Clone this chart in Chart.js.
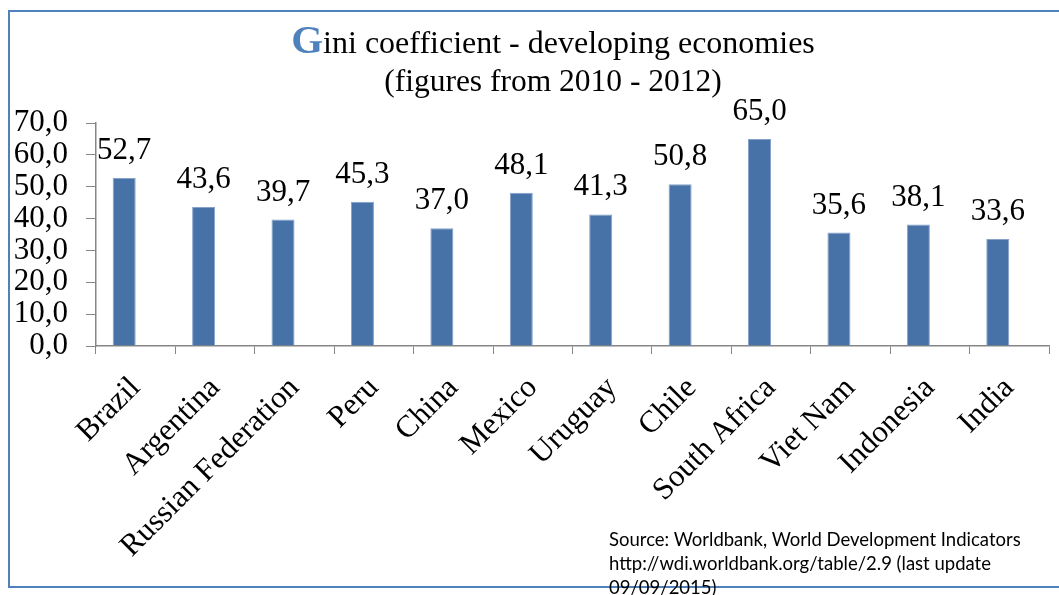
<!DOCTYPE html>
<html>
<head>
<meta charset="utf-8">
<script src="https://cdn.jsdelivr.net/npm/chart.js@4/dist/chart.umd.min.js"></script>
<style>
  html, body { margin: 0; padding: 0; background: #fff; overflow: hidden; }
  #wrap { position: relative; width: 1059px; height: 595px; overflow: hidden; }
  #frame { position: absolute; left: 8px; top: 10px; width: 1100px; height: 578px; border-top: 2px solid #4F81BD; border-left: 2px solid #4F81BD; border-bottom: 2px solid #4F81BD; border-right: none; box-sizing: border-box; }
  canvas { position: absolute; left: 0; top: 0; }
  .t1, .t2 { position: absolute; left: 553px; transform: translateX(-50%); white-space: nowrap; font-family: 'Liberation Serif', 'Times New Roman', serif; color: #000; }
  .t1 { top: 22px; font-size: 32px; line-height: 40px; }
  .t1 .big { font-size: 41px; font-weight: bold; color: #4F81BD; line-height: 0; }
  .t2 { top: 61px; font-size: 31.5px; line-height: 40px; }
  #source { position: absolute; left: 609px; top: 527px; font-family: Lato, 'Open Sans', sans-serif; font-size: 18.5px; line-height: 24px; color: #000; white-space: nowrap; }
</style>
</head>
<body>
<div id="wrap">
  <div id="frame"></div>
  <canvas id="c" width="1059" height="595"></canvas>
  <div class="t1"><span class="big">G</span>ini coefficient - developing economies</div>
  <div class="t2">(figures from 2010 - 2012)</div>
  <div id="source">Source: Worldbank, World Development Indicators<br>http://wdi.worldbank.org/table/2.9 (last update<br>09/09/2015)</div>
</div>
<script>
const categories = ['Brazil', 'Argentina', 'Russian Federation', 'Peru', 'China', 'Mexico', 'Uruguay', 'Chile', 'South Africa', 'Viet Nam', 'Indonesia', 'India'];
const giniValues = [52.7, 43.6, 39.7, 45.3, 37.0, 48.1, 41.3, 50.8, 65.0, 35.6, 38.1, 33.6];
const emptySeries = [null, null, null, null, null, null, null, null, null, null, null, null];
const yTicks = [0, 10, 20, 30, 40, 50, 60, 70];

const fmt = v => v.toFixed(1).replace('.', ',');
const serif = "'Liberation Serif', 'Times New Roman', serif";

const dataLabels = {
  id: 'dataLabels',
  afterDatasetsDraw(chart) {
    const ctx = chart.ctx;
    const meta = chart.getDatasetMeta(0);
    ctx.save();
    ctx.font = '31px ' + serif;
    ctx.fillStyle = '#000';
    ctx.textAlign = 'center';
    ctx.textBaseline = 'alphabetic';
    meta.data.forEach((bar, i) => {
      ctx.fillText(fmt(giniValues[i]), bar.x, bar.y - 19);
    });
    ctx.restore();
  }
};

new Chart(document.getElementById('c'), {
  type: 'bar',
  data: {
    labels: categories,
    datasets: [
      { label: 'Gini', data: giniValues, backgroundColor: '#4672A8', borderColor: '#86A2CB', borderWidth: 1, categoryPercentage: 0.58, barPercentage: 1 },
      { label: '', data: emptySeries, backgroundColor: '#C0504D', categoryPercentage: 0.58, barPercentage: 1 }
    ]
  },
  options: {
    responsive: false,
    animation: false,
    layout: { padding: { top: 123, right: 10, left: 0, bottom: 0 } },
    plugins: { legend: { display: false }, title: { display: false }, tooltip: { enabled: false } },
    scales: {
      x: {
        grid: { display: true, drawOnChartArea: false, drawTicks: true, tickLength: 8, color: '#868686', offset: true },
        border: { display: true, color: '#868686', width: 1.5 },
        ticks: { color: '#000', font: { family: serif, size: 31 }, minRotation: 45, maxRotation: 45, autoSkip: false, padding: 16 },
        afterFit: s => { s.height = 249; }
      },
      y: {
        min: 0, max: 70,
        afterBuildTicks: s => { s.ticks = yTicks.map(v => ({ value: v })); },
        grid: { display: true, drawOnChartArea: false, drawTicks: true, tickLength: 10, color: '#868686' },
        border: { display: true, color: '#868686', width: 1.5 },
        ticks: { color: '#000', font: { family: serif, size: 31 }, padding: 18, autoSkip: false, callback: v => fmt(v) },
        afterFit: s => { s.width = 96; }
      }
    }
  },
  plugins: [dataLabels]
});
</script>
</body>
</html>
